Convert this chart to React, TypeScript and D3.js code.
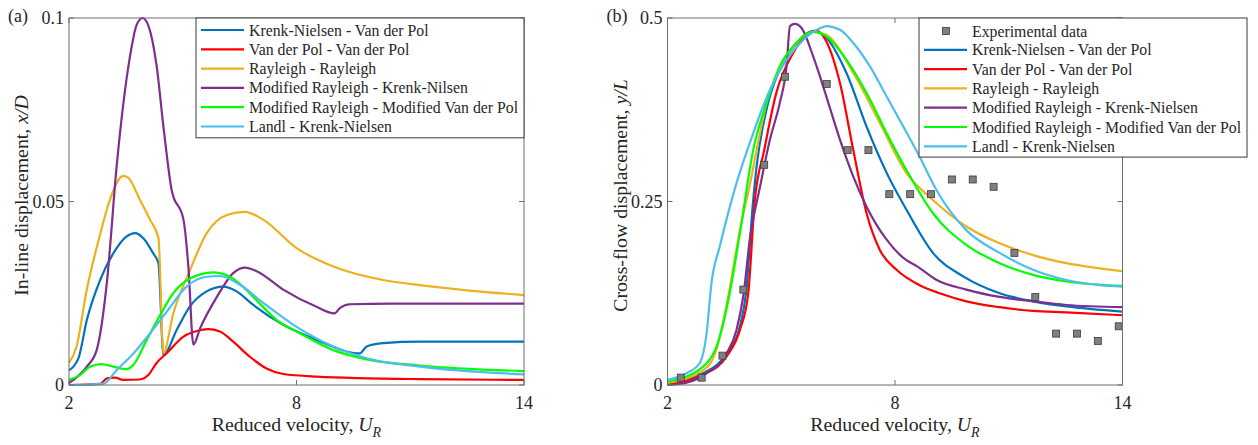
import React from 'react';
import * as d3 from 'd3';

// ---- data: [U_R, amplitude] ----
// (a) in-line displacement x/D
const ilKrenkVdp = [[2,0.004],[2.25,0.0073],[2.47,0.0177],[2.82,0.0286],[3.17,0.0359],[3.52,0.0405],[3.74,0.0414],[3.96,0.040],[4.22,0.0359],[4.36,0.0332],[4.49,0.0082],[4.84,0.015],[5.19,0.0214],[5.63,0.0255],[6.07,0.0268],[6.42,0.0255],[6.86,0.0218],[7.65,0.0164],[8.53,0.0123],[9.67,0.0086],[9.85,0.0105],[10.29,0.0114],[11.26,0.0118],[14,0.0118]];
const ilVdpVdp = [[2,0],[2.82,0.0003],[3.0,0.0018],[3.21,0.002],[3.43,0.0014],[3.87,0.0015],[4.09,0.0027],[4.31,0.006],[4.58,0.0087],[5.02,0.0132],[5.37,0.0147],[5.67,0.0152],[5.98,0.0146],[6.33,0.0118],[6.77,0.0077],[7.21,0.0045],[7.65,0.003],[8.53,0.0023],[11.26,0.0016],[14,0.0014]];
const ilRayRay = [[2,0.006],[2.2,0.0105],[2.47,0.026],[2.82,0.041],[3.08,0.0505],[3.43,0.057],[3.56,0.0565],[3.87,0.0505],[4.14,0.045],[4.36,0.040],[4.49,0.0087],[4.75,0.0195],[5.19,0.0313],[5.63,0.0413],[6.16,0.0463],[6.64,0.0472],[7.13,0.045],[8.0,0.0373],[8.97,0.0323],[10.29,0.0286],[11.26,0.0272],[12.5,0.0258],[14,0.0245]];
const ilModRayKrenk = [[2,0.0005],[2.47,0.005],[2.73,0.0095],[3.0,0.028],[3.26,0.06],[3.6,0.089],[3.78,0.098],[3.94,0.1],[4.09,0.098],[4.31,0.087],[4.49,0.0705],[4.71,0.053],[5.02,0.045],[5.15,0.032],[5.28,0.011],[5.46,0.0155],[5.9,0.024],[6.33,0.0305],[6.64,0.032],[6.95,0.031],[7.65,0.026],[8.53,0.0213],[9.0,0.0195],[9.15,0.021],[9.41,0.022],[10.5,0.0222],[14,0.0222]];
const ilModRayModVdp = [[2,0.0014],[2.29,0.0027],[2.55,0.005],[2.86,0.0057],[3.17,0.005],[3.52,0.0043],[3.7,0.0055],[4.05,0.0123],[4.4,0.019],[4.75,0.025],[5.19,0.029],[5.81,0.0307],[6.33,0.029],[6.86,0.024],[7.48,0.0177],[8.09,0.0141],[8.97,0.0095],[9.85,0.007],[11.26,0.0053],[14,0.0038]];
const ilLandlKrenk = [[2,0],[2.9,0.0003],[3.26,0.0041],[3.7,0.0086],[4.14,0.0141],[4.58,0.02],[5.1,0.0268],[5.63,0.0295],[5.98,0.0297],[6.51,0.0273],[7.13,0.0223],[7.92,0.0164],[8.97,0.0105],[9.85,0.0073],[11.26,0.005],[14,0.0029]];

// (b) cross-flow displacement y/L
const cfKrenkVdp = [[2,0.002],[2.94,0.016],[3.56,0.043],[3.91,0.08],[4.07,0.125],[4.26,0.252],[4.35,0.298],[4.61,0.375],[4.96,0.43],[5.4,0.466],[5.84,0.482],[6.19,0.473],[6.72,0.425],[7.25,0.352],[7.78,0.289],[8.3,0.239],[9.0,0.18],[9.8,0.148],[10.76,0.125],[11.64,0.114],[12.52,0.107],[14,0.1]];
const cfVdpVdp = [[2,0.001],[2.94,0.014],[3.56,0.039],[3.91,0.075],[4.13,0.125],[4.3,0.25],[4.55,0.32],[4.87,0.398],[5.31,0.452],[5.67,0.477],[5.93,0.483],[6.19,0.468],[6.55,0.411],[6.9,0.32],[7.25,0.234],[7.6,0.184],[8.04,0.157],[8.65,0.136],[9.18,0.125],[9.88,0.114],[10.76,0.106],[11.64,0.101],[12.52,0.099],[14,0.095]];
const cfRayRay = [[2,0.003],[2.94,0.02],[3.29,0.048],[3.58,0.115],[3.91,0.211],[4.2,0.28],[4.35,0.32],[4.61,0.384],[4.96,0.432],[5.4,0.466],[5.84,0.481],[6.19,0.477],[6.9,0.425],[7.6,0.357],[8.3,0.289],[9.0,0.252],[9.88,0.216],[10.76,0.193],[11.64,0.177],[12.52,0.166],[13.4,0.159],[14,0.155]];
const cfModRayKrenk = [[2,0],[2.5,0.003],[3.03,0.016],[3.56,0.043],[3.82,0.075],[4.01,0.125],[4.17,0.198],[4.44,0.27],[4.7,0.334],[4.96,0.384],[5.14,0.434],[5.23,0.489],[5.36,0.492],[5.54,0.486],[5.84,0.448],[6.19,0.393],[6.55,0.334],[6.9,0.284],[7.25,0.243],[7.78,0.198],[8.3,0.17],[8.57,0.162],[9.1,0.143],[9.88,0.13],[10.76,0.12],[11.64,0.114],[12.52,0.109],[14,0.106]];
const cfModRayModVdp = [[2,0.0045],[2.94,0.025],[3.38,0.066],[3.64,0.125],[3.91,0.207],[4.26,0.32],[4.61,0.384],[4.96,0.434],[5.4,0.466],[5.84,0.481],[6.19,0.475],[6.72,0.443],[7.34,0.389],[7.78,0.343],[8.3,0.293],[9.0,0.234],[9.88,0.191],[10.76,0.166],[11.64,0.15],[12.52,0.141],[14,0.135]];
const cfLandlKrenk = [[2,0.007],[2.5,0.016],[2.85,0.03],[3.03,0.07],[3.16,0.139],[3.38,0.189],[3.82,0.275],[4.26,0.343],[4.7,0.402],[5.14,0.443],[5.58,0.47],[6.02,0.486],[6.19,0.489],[6.55,0.484],[6.9,0.466],[7.34,0.434],[7.78,0.393],[8.22,0.352],[8.65,0.311],[9.1,0.265],[9.88,0.211],[10.76,0.18],[11.64,0.157],[12.52,0.143],[13.4,0.136],[14,0.134]];

const expUR = [2.35, 2.9, 3.45, 4.0, 4.55, 5.1, 6.2, 6.75, 7.3, 7.85, 8.4, 8.95, 9.5, 10.05, 10.6, 11.15, 11.7, 12.25, 12.8, 13.35, 13.9];
const expY = [0.01, 0.01, 0.04, 0.13, 0.30, 0.42, 0.41, 0.32, 0.32, 0.26, 0.26, 0.26, 0.28, 0.28, 0.27, 0.18, 0.12, 0.07, 0.07, 0.06, 0.08];

const xTicks = [2, 8, 14];
const yTicksA = [0, 0.05, 0.1];
const yTicksB = [0, 0.25, 0.5];

const colors = ['#0072BD', '#FF0000', '#EDB120', '#7E2F8E', '#00FF00', '#4DBEEE'];
const namesA = ['Krenk-Nielsen - Van der Pol', 'Van der Pol - Van der Pol', 'Rayleigh - Rayleigh', 'Modified Rayleigh - Krenk-Nilsen', 'Modified Rayleigh - Modified Van der Pol', 'Landl - Krenk-Nielsen'];
const namesB = ['Krenk-Nielsen - Van der Pol', 'Van der Pol - Van der Pol', 'Rayleigh - Rayleigh', 'Modified Rayleigh - Krenk-Nielsen', 'Modified Rayleigh - Modified Van der Pol', 'Landl - Krenk-Nielsen'];

const FONT = 'Liberation Serif, Times New Roman, Times, DejaVu Serif, serif';
const TXT = '#262626';
const AX = '#6e6e6e';

function Panel({ left, right, top, bottom, yMax, yTicks, series, names, exp, tag, yLabel, yVar, legend }) {
  const x = d3.scaleLinear().domain([2, 14]).range([left, right]);
  const y = d3.scaleLinear().domain([0, yMax]).range([bottom, top]);
  const line = d3.line().x(d => x(d[0])).y(d => y(d[1])).curve(d3.curveMonotoneX);
  const tl = 5;
  const rowStep = 19.3;
  const lgRows = (exp ? 1 : 0) + names.length;
  const lgH = lgRows * rowStep + 4;

  return (
    <g style={{ fontFamily: FONT }} fill={TXT}>
      {series.map((s, i) => (
        <path key={i} d={line(s)} fill="none" stroke={colors[i]} strokeWidth={2.2} strokeLinejoin="round" />
      ))}
      {exp && exp.ur.map((u, i) => (
        <rect key={'e' + i} x={x(u) - 3.5} y={y(exp.v[i]) - 3.5} width={7} height={7} fill="#7f7f7f" stroke="#3c3c3c" strokeWidth={0.8} />
      ))}
      <rect x={left} y={top} width={right - left} height={bottom - top} fill="none" stroke={AX} strokeWidth={1} />
      {xTicks.map(t => (
        <g key={'x' + t}>
          <line x1={x(t)} x2={x(t)} y1={bottom} y2={bottom - tl} stroke={AX} />
          <line x1={x(t)} x2={x(t)} y1={top} y2={top + tl} stroke={AX} />
          <text x={x(t)} y={bottom + 24} textAnchor="middle" fontSize={18}>{t}</text>
        </g>
      ))}
      {yTicks.map(t => (
        <g key={'y' + t}>
          <line x1={left} x2={left + tl} y1={y(t)} y2={y(t)} stroke={AX} />
          <line x1={right} x2={right - tl} y1={y(t)} y2={y(t)} stroke={AX} />
          <text x={left - 5} y={y(t) + 6} textAnchor="end" fontSize={18}>{t}</text>
        </g>
      ))}
      <text x={(left + right) / 2} y={431} textAnchor="middle" fontSize={19.8}>
        Reduced velocity, <tspan fontStyle="italic">U</tspan><tspan fontStyle="italic" fontSize={14} dy={6}>R</tspan>
      </text>
      <text transform={`translate(${left - 41},${(top + bottom) / 2 - 6}) rotate(-90)`} textAnchor="middle" fontSize={19.8}>
        {yLabel}<tspan fontStyle="italic">{yVar}</tspan>
      </text>
      <text x={left - 61} y={22} fontSize={18}>{tag}</text>
      <g>
        <rect x={legend.x} y={top} width={328} height={lgH} fill="#fff" stroke="#3a3a3a" strokeWidth={1} />
        {exp && (
          <g>
            <rect x={legend.x + 27 - 3.5} y={top + 13 - 3.5} width={7} height={7} fill="#7f7f7f" stroke="#3c3c3c" strokeWidth={0.8} />
            <text x={legend.x + 53} y={top + 13 + 5.5} fontSize={15.8}>Experimental data</text>
          </g>
        )}
        {names.map((n, i) => {
          const cy = top + 12 + ((exp ? 1 : 0) + i) * rowStep + (exp ? 0.5 : 0);
          return (
            <g key={'l' + i}>
              <line x1={legend.x + 5} x2={legend.x + 48} y1={cy} y2={cy} stroke={colors[i]} strokeWidth={2.2} />
              <text x={legend.x + 53} y={cy + 5.5} fontSize={15.8}>{n}</text>
            </g>
          );
        })}
      </g>
    </g>
  );
}

export default function App() {
  return (
    <svg width={1258} height={445} style={{ position: 'absolute', left: 0, top: 0, background: '#fff' }}>
      <Panel
        left={69} right={524} top={18} bottom={385} yMax={0.1} yTicks={yTicksA}
        series={[ilKrenkVdp, ilVdpVdp, ilRayRay, ilModRayKrenk, ilModRayModVdp, ilLandlKrenk]}
        names={namesA} exp={null} tag="(a)"
        yLabel="In-line displacement, " yVar="x/D" legend={{ x: 196 }}
      />
      <Panel
        left={667.5} right={1122.5} top={18} bottom={385} yMax={0.5} yTicks={yTicksB}
        series={[cfKrenkVdp, cfVdpVdp, cfRayRay, cfModRayKrenk, cfModRayModVdp, cfLandlKrenk]}
        names={namesB} exp={{ ur: expUR, v: expY }} tag="(b)"
        yLabel="Cross-flow displacement, " yVar="y/L" legend={{ x: 919 }}
      />
    </svg>
  );
}
